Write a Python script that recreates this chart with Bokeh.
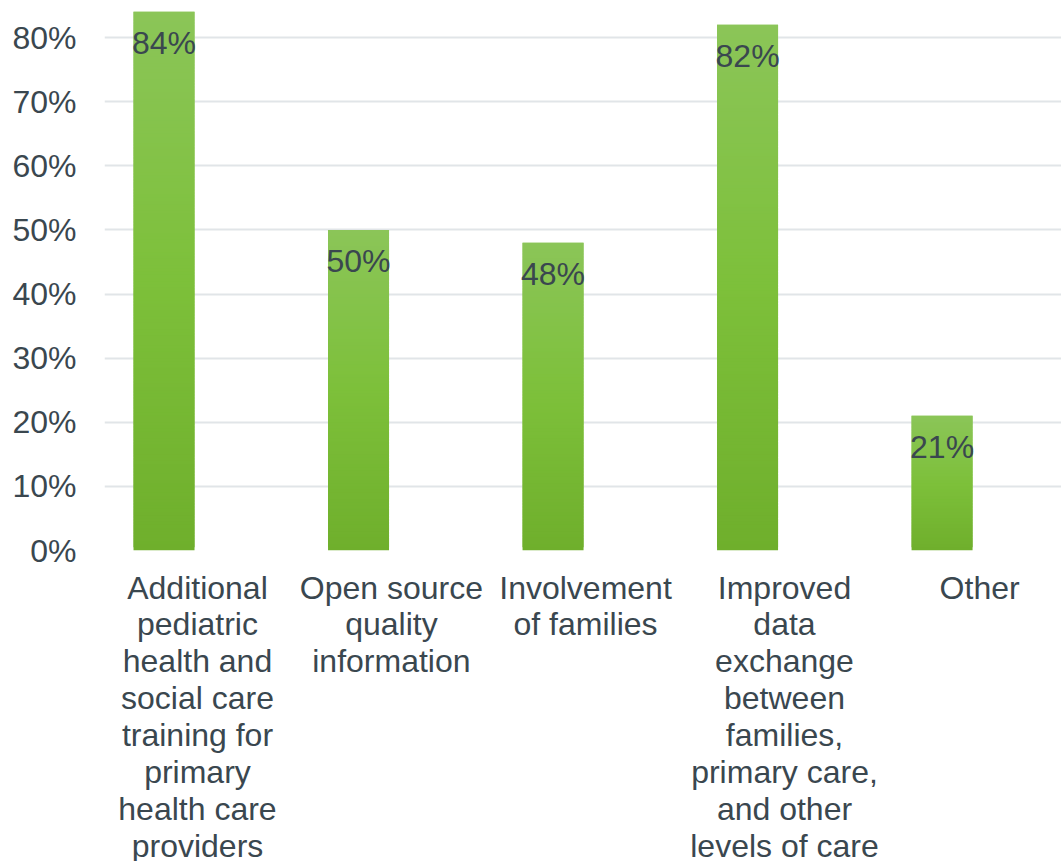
import math
from bokeh.plotting import figure
from bokeh.models import ColumnDataSource, FixedTicker, LabelSet, PolyAnnotation
from bokeh.core.properties import value
from bokeh.embed import file_html
from bokeh.resources import INLINE

categories = [
    "Additional\npediatric\nhealth and\nsocial care\ntraining for\nprimary\nhealth care\nproviders",
    "Open source\nquality\ninformation",
    "Involvement\nof families",
    "Improved\ndata\nexchange\nbetween\nfamilies,\nprimary care,\nand other\nlevels of care",
    "Other",
]
values = [84, 50, 48, 82, 21]
y_ticks = [0, 10, 20, 30, 40, 50, 60, 70, 80]
y_labels = ["0%", "10%", "20%", "30%", "40%", "50%", "60%", "70%", "80%"]

FONT = "Liberation Sans"
TEXT = "#3A474F"
GRID = "#E1E5E8"
STOPS = [(0.0, (0x6F, 0xAF, 0x2C)), (0.5, (0x7D, 0xC0, 0x3A)), (1.0, (0x8B, 0xC5, 0x58))]
BAR_SHIFT = -0.172
BAR_W = 0.3136
LABEL_NUDGE = [0, -0.003, -0.005, 0.018, 0.021]  # per category label, in category units


def grad(t):
    for (a, ca), (b, cb) in zip(STOPS, STOPS[1:]):
        if t <= b:
            f = (t - a) / (b - a)
            return "#%02x%02x%02x" % tuple(round(x + (y - x) * f) for x, y in zip(ca, cb))
    return "#8BC558"


p = figure(width=1061, height=867, output_backend="svg", toolbar_location=None,
           x_range=(-0.478, 4.442), y_range=(0, 85.77),
           min_border_left=104, min_border_right=0, min_border_top=0, min_border_bottom=317,
           outline_line_color=None, background_fill_color="white")

xs, bot, top, col = [], [], [], []
for i, v in enumerate(values):
    n = v * 2
    for s in range(n):
        xs.append(i + BAR_SHIFT)
        bot.append(v * s / n)
        top.append(min(v, v * (s + 1) / n + 0.5))
        col.append(grad((s + 0.5) / n))
p.vbar(x="x", bottom="b", top="t", width=BAR_W, fill_color="c", line_color=None,
       source=ColumnDataSource(dict(x=xs, b=bot, t=top, c=col)))

lab = ColumnDataSource(dict(x=[i + BAR_SHIFT for i in range(len(values))], y=values,
                            t=[f"{v}%" for v in values]))
p.add_layout(LabelSet(x="x", y="y", text="t", source=lab, text_font=value(FONT),
                      text_font_size="32px", text_color=TEXT, text_align="center",
                      text_baseline="middle", y_offset=-31))

x_ticks = [round(i + d, 4) for i, d in enumerate(LABEL_NUDGE)]
p.xaxis.ticker = FixedTicker(ticks=x_ticks)
p.xaxis.major_label_overrides = dict(zip(x_ticks, categories))
p.xaxis.axis_line_color = None
p.xaxis.major_tick_line_color = None
p.xaxis.minor_tick_line_color = None
p.xaxis.major_tick_out = 0
p.xaxis.major_label_standoff = 19
p.xaxis.major_label_text_font = FONT
p.xaxis.major_label_text_font_size = "32px"
p.xaxis.major_label_text_color = TEXT
p.xaxis.major_label_text_line_height = 1.025

p.yaxis.ticker = FixedTicker(ticks=y_ticks)
p.yaxis.major_label_overrides = dict(zip(y_ticks, y_labels))
p.yaxis.axis_line_color = None
p.yaxis.major_tick_line_color = None
p.yaxis.minor_tick_line_color = None
p.yaxis.major_tick_out = 0
p.yaxis.major_label_standoff = 28
p.yaxis.major_label_text_font = FONT
p.yaxis.major_label_text_font_size = "32px"
p.yaxis.major_label_text_color = TEXT

p.xgrid.visible = False
p.ygrid.ticker = FixedTicker(ticks=y_ticks)
p.ygrid.grid_line_color = GRID
p.ygrid.grid_line_width = 2


def shape(px, py, color):
    # outline given in picture pixels, turned into data units
    p.add_layout(PolyAnnotation(xs=[(a - 197) / 194.5 for a in px],
                                ys=[(550 - b) / 6.4125 for b in py],
                                fill_color=color, fill_alpha=1, line_color=None, level="guide"))


def ellipse(cx, cy, rx, ry, color):
    angs = [2 * math.pi * k / 24 for k in range(24)]
    shape([cx + rx * math.cos(a) for a in angs], [cy + ry * math.sin(a) for a in angs], color)


# small figures cropped by the bottom edge of the picture
shape([528, 531, 536, 541, 542, 541], [861, 853, 850, 851, 856, 861], "#D4D4D4")
shape([540, 545, 545, 540], [857, 857, 861, 861], "#333333")
ellipse(541.5, 846, 4.2, 6.5, "#F6C38C")
shape([535, 536, 539, 544, 545, 541, 539, 538, 536], [846, 841, 839, 839, 842, 843, 848, 851, 850], "#161616")

shape([673, 677, 681, 688, 688, 673], [861, 856, 854, 855, 861, 861], "#F2F0E8")
shape([677, 681, 686, 688, 688, 677], [861, 857, 857, 857, 861, 861], "#EDB748")
ellipse(686.5, 850, 4.2, 5.2, "#F3C08F")
shape([682, 684, 688, 691, 687, 685, 684], [851, 845, 844, 846, 847, 851, 855], "#3A3A3A")

html = file_html(p, INLINE).replace("<head>", "<head><style>html,body{overflow:hidden}</style>", 1)
open("out.html", "w").write(html)
